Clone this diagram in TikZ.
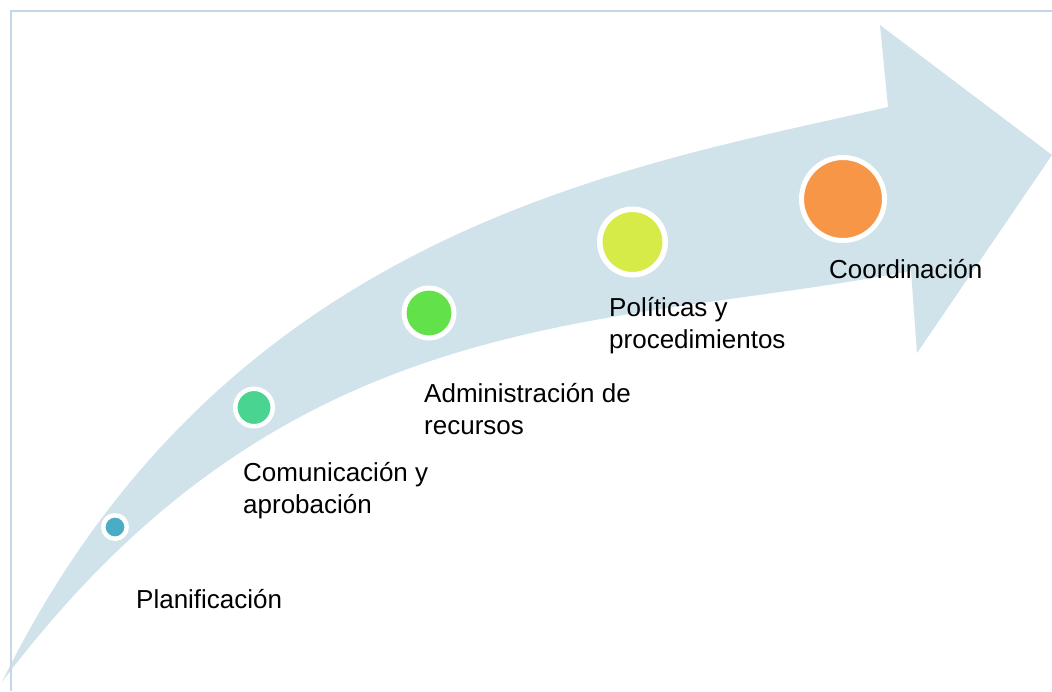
\documentclass[tikz,border=0pt]{standalone}
\usepackage{fontspec}
\setmainfont{Liberation Sans}
\definecolor{band}{RGB}{208,226,234}
\definecolor{framec}{RGB}{198,214,234}
\definecolor{c1}{RGB}{75,172,198}
\definecolor{c2}{RGB}{74,212,145}
\definecolor{c3}{RGB}{98,225,74}
\definecolor{c4}{RGB}{214,235,72}
\definecolor{c5}{RGB}{247,150,70}
\begin{document}
\begin{tikzpicture}[x=1pt,y=-1pt,
  dot/.style={circle, draw=white, inner sep=0pt},
  lbl/.style={anchor=base west, inner sep=0pt, font=\fontsize{26}{32}\selectfont}]
\useasboundingbox (0,0) rectangle (1052,691);
% curved arrow
\fill[band] (2,682) .. controls (225,228) and (628,167) .. (888,107)
  -- (880,25) -- (1052,155) -- (917,353) -- (911,271)
  .. controls (600,330) and (290,300) .. (2,682)
  -- cycle;
% frame lines
\draw[framec, line width=1.5pt] (10,11) -- (1052,11);
\draw[framec, line width=2pt] (10.5,11) -- (10.5,691);
% circles
\node[dot, fill=c1, line width=4.5pt, minimum size=23.5pt] (n1) at (115,527) {};
\node[dot, fill=c2, line width=4.5pt, minimum size=37.5pt] (n2) at (254,407.5) {};
\node[dot, fill=c3, line width=5pt, minimum size=50pt] (n3) at (429,313) {};
\node[dot, fill=c4, line width=5.5pt, minimum size=65.5pt] (n4) at (632.5,242) {};
\node[dot, fill=c5, line width=5pt, minimum size=83pt] (n5) at (843,199) {};
% labels
\node[lbl] (t1) at (136,608) {Planificación};
\node[lbl] (t2) at (243,481.5) {\begin{tabular}[t]{@{}l@{}}Comunicación y\\aprobación\end{tabular}};
\node[lbl] (t3) at (424,402.5) {\begin{tabular}[t]{@{}l@{}}Administración de\\recursos\end{tabular}};
\node[lbl] (t4) at (609,316) {\begin{tabular}[t]{@{}l@{}}Políticas y\\procedimientos\end{tabular}};
\node[lbl] (t5) at (829,278) {Coordinación};
\end{tikzpicture}
\end{document}
